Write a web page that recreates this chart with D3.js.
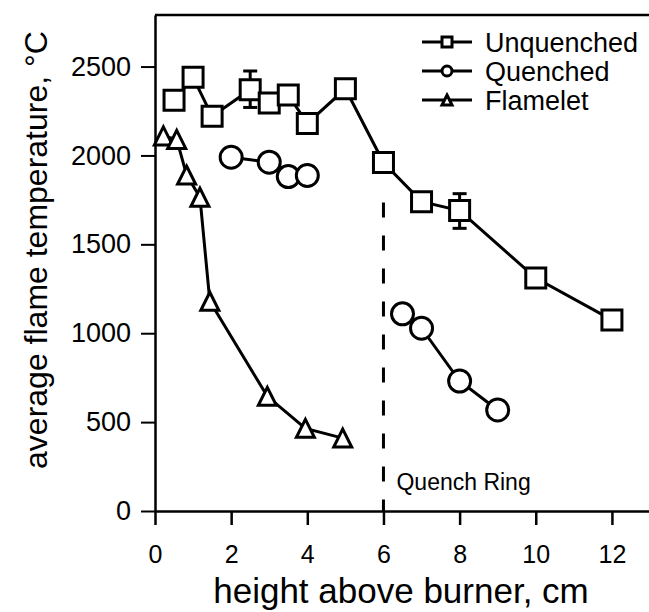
<!DOCTYPE html>
<html>
<head>
<meta charset="utf-8">
<script src="https://cdn.jsdelivr.net/npm/d3@7"></script>
<style>
  body { margin: 0; background: #fff; }
  svg text { font-family: "Liberation Sans", Arial, sans-serif; fill: #000; }
</style>
</head>
<body>
<script>
// data
var unqX = [0.5, 1, 1.5, 2.5, 3, 3.5, 4, 5, 6, 7, 8, 10, 12];
var unqY = [2310, 2440, 2220, 2370, 2295, 2340, 2180, 2375, 1960, 1740, 1690, 1310, 1075];
var errX = [2.5, 8];
var errLo = [2270, 1590];
var errHi = [2475, 1785];

var qX1 = [2, 3, 3.5, 4];
var qY1 = [1990, 1962, 1881, 1887];
var qX2 = [6.5, 7, 8, 9];
var qY2 = [1109, 1028, 731, 568];

var flX = [0.22, 0.57, 0.83, 1.18, 1.44, 2.95, 3.95, 4.93];
var flY = [2110, 2090, 1890, 1765, 1180, 645, 465, 410];

var ringX = 6, ringTop = 1735;

var xTicks = [0, 2, 4, 6, 8, 10, 12];
var yTicks = [0, 500, 1000, 1500, 2000, 2500];
var legendNames = ["Unquenched", "Quenched", "Flamelet"];
var legendShapes = ["square", "circle", "triangle"];

(function(){
  var width = 649, height = 612;

  var svg = d3.select("body").append("svg")
    .attr("width", width)
    .attr("height", height);

  var x = d3.scaleLinear().domain([0, 13]).range([155, 650]);
  var y = d3.scaleLinear().domain([0, 2790]).range([511, 15]);

  function zip(xs, ys){
    return xs.map(function(v, i){ return [v, ys[i]]; });
  }

  //marker path generator, shapes centred on their box
  function shapePath(type, s){
    var h = s / 2;
    if (type == "square") return "M" + (-h) + "," + (-h) + "H" + h + "V" + h + "H" + (-h) + "Z";
    if (type == "circle") return "M" + h + ",0A" + h + "," + h + " 0 1,1 " + (-h) + ",0A" + h + "," + h + " 0 1,1 " + h + ",0Z";
    return "M0," + (-h) + "L" + h + "," + h + "L" + (-h) + "," + h + "Z";
  }

  //axes
  var xAxis = svg.append("g")
    .attr("transform", "translate(0," + y(0) + ")")
    .call(d3.axisBottom(x).tickValues(xTicks).tickFormat(d3.format("d"))
      .tickSize(14).tickPadding(20).tickSizeOuter(0));
  var yAxis = svg.append("g")
    .attr("transform", "translate(" + x(0) + ",0)")
    .call(d3.axisLeft(y).tickValues(yTicks).tickFormat(d3.format("d"))
      .tickSize(14).tickPadding(10).tickSizeOuter(0));

  xAxis.select(".domain").attr("stroke-width", 2.5);
  yAxis.select(".domain").attr("stroke-width", 2.5);
  xAxis.selectAll(".tick line").attr("stroke-width", 2.5);
  yAxis.selectAll(".tick line").attr("stroke-width", 2);
  xAxis.selectAll("text").style("font-size", "25px").attr("dy", "0.71em");
  yAxis.selectAll("text").style("font-size", "27px");

  //top frame line
  svg.append("line")
    .attr("x1", x(0)).attr("x2", width)
    .attr("y1", y(2790)).attr("y2", y(2790))
    .attr("stroke", "#000").attr("stroke-width", 2.5);

  //axis titles
  svg.append("text")
    .attr("x", 401).attr("y", 603)
    .attr("text-anchor", "middle")
    .style("font-size", "35px")
    .text("height above burner, cm");
  svg.append("text")
    .attr("transform", "translate(47,250) rotate(-90)")
    .attr("text-anchor", "middle")
    .style("font-size", "32px")
    .text("average flame temperature, °C");

  //quench ring marker
  svg.append("line")
    .attr("x1", x(ringX)).attr("x2", x(ringX))
    .attr("y1", y(ringTop)).attr("y2", y(0))
    .attr("stroke", "#000").attr("stroke-width", 3)
    .attr("stroke-dasharray", "15,18");
  svg.append("text")
    .attr("x", x(ringX) + 13).attr("y", 490)
    .style("font-size", "23px")
    .text("Quench Ring");

  var line = d3.line()
    .x(function(d){ return x(d[0]); })
    .y(function(d){ return y(d[1]); });

  var lineSets = [zip(unqX, unqY), zip(qX1, qY1), zip(qX2, qY2), zip(flX, flY)];
  svg.selectAll(".series")
    .data(lineSets)
    .enter()
    .append("path")
    .attr("class", "series")
    .attr("d", line)
    .attr("fill", "none")
    .attr("stroke", "#000")
    .attr("stroke-width", 3);

  //error bars
  var errs = svg.selectAll(".err")
    .data(errX.map(function(v, i){ return {x: v, lo: errLo[i], hi: errHi[i]}; }))
    .enter().append("g").attr("class", "err")
    .attr("stroke", "#000").attr("stroke-width", 3);
  errs.append("line")
    .attr("x1", function(d){ return x(d.x); }).attr("x2", function(d){ return x(d.x); })
    .attr("y1", function(d){ return y(d.lo); }).attr("y2", function(d){ return y(d.hi); });
  errs.append("line")
    .attr("x1", function(d){ return x(d.x) - 7; }).attr("x2", function(d){ return x(d.x) + 7; })
    .attr("y1", function(d){ return y(d.lo); }).attr("y2", function(d){ return y(d.lo); });
  errs.append("line")
    .attr("x1", function(d){ return x(d.x) - 7; }).attr("x2", function(d){ return x(d.x) + 7; })
    .attr("y1", function(d){ return y(d.hi); }).attr("y2", function(d){ return y(d.hi); });

  //markers
  function drawMarkers(pts, type, size){
    svg.append("g").selectAll("path")
      .data(pts)
      .enter()
      .append("path")
      .attr("transform", function(d){ return "translate(" + x(d[0]) + "," + y(d[1]) + ")"; })
      .attr("d", shapePath(type, size))
      .attr("fill", "#fff")
      .attr("stroke", "#000")
      .attr("stroke-width", 3);
  }
  drawMarkers(zip(flX, flY), "triangle", 18);
  drawMarkers(zip(qX1, qY1).concat(zip(qX2, qY2)), "circle", 22);
  drawMarkers(zip(unqX, unqY), "square", 20);

  //legend
  var legend = svg.selectAll(".legend")
    .data(legendNames)
    .enter()
    .append("g")
    .attr("class", "legend")
    .attr("transform", function(d, i){ return "translate(0," + (42 + i * 29) + ")"; });
  legend.append("line")
    .attr("x1", 422).attr("x2", 472)
    .attr("stroke", "#000").attr("stroke-width", 3);
  legend.append("path")
    .attr("transform", "translate(447,0)")
    .attr("d", function(d, i){ return shapePath(legendShapes[i], 10); })
    .attr("fill", "#fff").attr("stroke", "#000").attr("stroke-width", 3);
  legend.append("text")
    .attr("x", 485).attr("dy", "0.36em")
    .style("font-size", "27px")
    .text(function(d){ return d; });
})();
</script>
</body>
</html>
